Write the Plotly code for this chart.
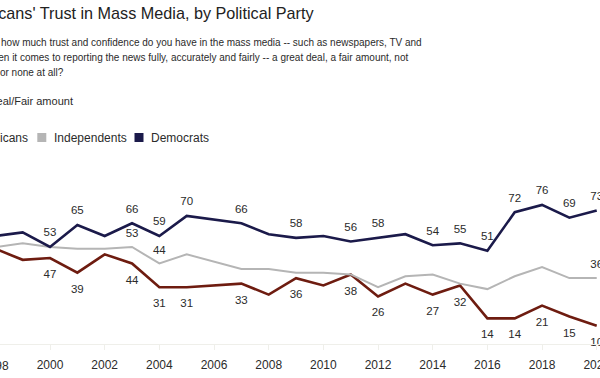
import plotly.graph_objects as go

# ---------------- data ----------------
years = [1998, 1999, 2000, 2001, 2002, 2003, 2004, 2005, 2007, 2008, 2009,
         2010, 2011, 2012, 2013, 2014, 2015, 2016, 2017, 2018, 2019, 2020]
republicans = [52, 46, 47, 39, 49, 44, 31, 31, 33, 27, 36,
               32, 38, 26, 33, 27, 32, 14, 14, 21, 15, 10]
independents = [53, 55, 53, 52, 52, 53, 44, 49, 41, 41, 39,
                39, 38, 31, 37, 38, 33, 30, 37, 42, 36, 36]
democrats = [59, 61, 53, 65, 59, 66, 59, 70, 66, 60, 58,
             59, 56, 58, 60, 54, 55, 51, 72, 76, 69, 73]

label_years_party = [1998, 2000, 2001, 2003, 2004, 2005, 2007, 2009, 2011,
                     2012, 2014, 2015, 2016, 2017, 2018, 2019, 2020]
label_years_ind = [2003, 2004, 2020]

tick_years = [1998, 2000, 2002, 2004, 2006, 2008, 2010, 2012, 2014, 2016, 2018, 2020]

series_names = ["Republicans", "Independents", "Democrats"]
series_colors = ["#6e1c10", "#b5b5b5", "#1b1a4a"]

title_text = "Americans' Trust in Mass Media, by Political Party"
subtitle_lines = [
    "In general, how much trust and confidence do you have in the mass media -- such as newspapers, TV and",
    "radio -- when it comes to reporting the news fully, accurately and fairly -- a great deal, a fair amount, not",
    "very much or none at all?",
]
measure_text = "% Great deal/Fair amount"

# ---------------- layout constants ----------------
W, H = 600, 378
M_L, M_R, M_T, M_B = 0, 0, 161, 34
X0, X1 = 1998.17, 2020.12
Y0, Y1 = 0, 100
PLOT_W = W - M_L - M_R
PLOT_H = H - M_T - M_B
PX_PER_UNIT = PLOT_H / (Y1 - Y0)

FONT = "Liberation Sans, Arial, sans-serif"
TEXT_COLOR = "#2b2b2b"


def px_x(px):
    return (px - M_L) / PLOT_W


def px_y(py):
    return (H - M_B - py) / PLOT_H


fig = go.Figure()

series = [republicans, independents, democrats]
widths = [2.6, 2.0, 2.6]
for name, vals, col, w in zip(series_names, series, series_colors, widths):
    fig.add_trace(go.Scatter(x=years, y=vals, mode="lines", name=name,
                             line=dict(color=col, width=w), showlegend=False,
                             hoverinfo="skip"))

# data labels (offset above/below the points in pixel terms)
label_specs = [
    (republicans, label_years_party, -17.2),
    (independents, label_years_ind, 12.5),
    (democrats, label_years_party, 13.5),
]
for vals, lyears, off_px in label_specs:
    lx = [y for y in years if y in lyears]
    lv = [v for y, v in zip(years, vals) if y in lyears]
    fig.add_trace(go.Scatter(
        x=lx, y=[v + off_px / PX_PER_UNIT for v in lv], mode="text",
        text=[str(v) for v in lv], textposition="middle center",
        textfont=dict(family=FONT, size=11.5, color=TEXT_COLOR),
        showlegend=False, hoverinfo="skip", cliponaxis=False))

annotations = []
# title
annotations.append(dict(text=title_text, x=px_x(-46), y=px_y(12.5), xref="paper", yref="paper",
                        xanchor="left", yanchor="middle", showarrow=False,
                        font=dict(family=FONT, size=16.2, color="#222222")))
# subtitle lines
for i, line in enumerate(subtitle_lines):
    annotations.append(dict(text=line, x=px_x(-51), y=px_y(42.5 + 15 * i), xref="paper", yref="paper",
                            xanchor="left", yanchor="middle", showarrow=False,
                            font=dict(family=FONT, size=10, color=TEXT_COLOR)))
annotations.append(dict(text=measure_text, x=px_x(-55), y=px_y(101.2), xref="paper", yref="paper",
                        xanchor="left", yanchor="middle", showarrow=False,
                        font=dict(family=FONT, size=11, color=TEXT_COLOR)))

# legend (boxes + labels)
legend_box_left = [-55, 37.3, 134.5]
shapes = []
for name, col, bx in zip(series_names, series_colors, legend_box_left):
    shapes.append(dict(type="rect", xref="paper", yref="paper",
                       x0=px_x(bx), x1=px_x(bx + 9), y0=px_y(142), y1=px_y(133),
                       fillcolor=col, line=dict(width=0)))
    annotations.append(dict(text=name, x=px_x(bx + 14.5), y=px_y(137.5), xref="paper", yref="paper",
                            xanchor="left", yanchor="middle", showarrow=False,
                            font=dict(family=FONT, size=12, color=TEXT_COLOR)))

# first tick label lies just outside the visible range -> draw it as text at its axis position
for ty in tick_years:
    if ty < X0:
        annotations.append(dict(text=str(ty), x=(ty - X0) / (X1 - X0), y=px_y(365.5), xref="paper",
                                yref="paper", xanchor="center", yanchor="middle", showarrow=False,
                                font=dict(family=FONT, size=12, color=TEXT_COLOR)))

fig.update_layout(
    width=W, height=H,
    margin=dict(l=M_L, r=M_R, t=M_T, b=M_B, pad=0, autoexpand=False),
    paper_bgcolor="white", plot_bgcolor="white",
    annotations=annotations, shapes=shapes,
    showlegend=False,
    xaxis=dict(range=[X0, X1], tickvals=[t for t in tick_years if t >= X0],
               ticktext=[str(t) for t in tick_years if t >= X0], automargin=False,
               showgrid=False, zeroline=False, showline=True, linecolor="#efefea", linewidth=1,
               ticks="outside", ticklen=5, tickcolor="#efefea", ticklabeloverflow="allow",
               ticklabelstandoff=5,
               tickfont=dict(family=FONT, size=12, color=TEXT_COLOR)),
    yaxis=dict(range=[Y0, Y1], showgrid=False, zeroline=False, showticklabels=False,
               showline=False, ticks="", automargin=False),
)

fig.write_html("out.html", config={"displayModeBar": False},
               post_script="document.body.style.margin='0';document.body.style.overflow='hidden';")
